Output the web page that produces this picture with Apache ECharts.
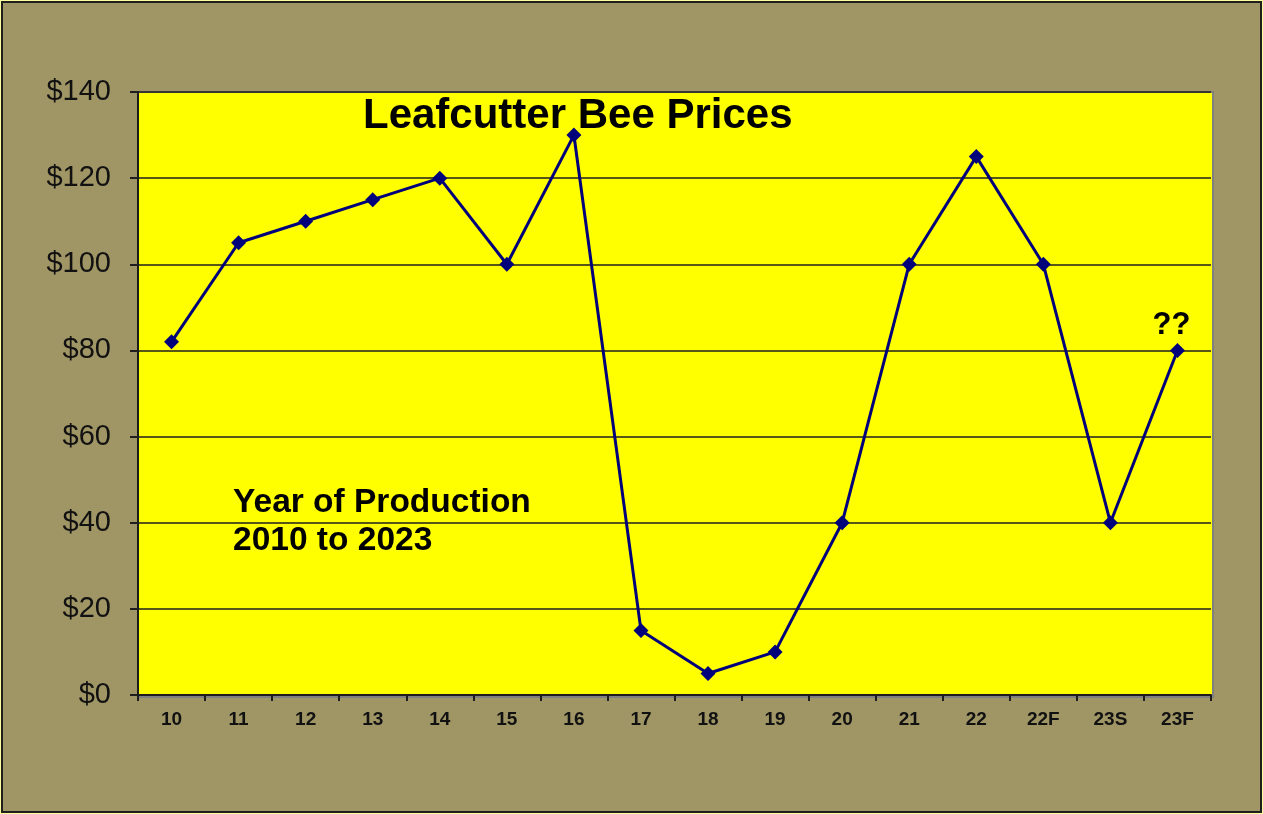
<!DOCTYPE html>
<html>
<head>
<meta charset="utf-8">
<script src="https://cdn.jsdelivr.net/npm/echarts@6/dist/echarts.min.js"></script>
<style>
  html, body { margin: 0; padding: 0; background: #fdfd9a; }
  #main { width: 1261px; height: 812px; margin: 1px 0 0 1px; box-sizing: border-box; border: 2px solid #1e1e1e; }
</style>
</head>
<body>
<div id="main"></div>
<script>
// categories and prices
var years = ['10', '11', '12', '13', '14', '15', '16', '17', '18', '19', '20', '21', '22', '22F', '23S', '23F'];
var prices = [82, 105, 110, 115, 120, 100, 130, 15, 5, 10, 40, 100, 125, 100, 40, 80];
var priceTicks = [0, 20, 40, 60, 80, 100, 120, 140];

var myChart = echarts.init(document.getElementById('main'));
var font = 'Liberation Sans, Arial, sans-serif';

var seriesData = prices.map(function (v, i) {
    if (i === prices.length - 1) {
        // the "??" over the last guess
        return {
            value: v,
            label: {
                show: true, position: 'top', distance: 2, offset: [-6, 0],
                formatter: '??', fontSize: 31, fontWeight: 'bold', color: '#000', fontFamily: font
            }
        };
    }
    return v;
});

var option = {
    backgroundColor: '#a09565',
    animation: false,
    grid: { left: 135, right: 49, top: 89, bottom: 116 },
    graphic: [
        {
            type: 'rect', silent: true, z: 0,
            shape: { x: 135, y: 89, width: 1075, height: 605 },
            style: { fill: '#ffff00', stroke: '#808080', lineWidth: 2 }
        },
        {
            type: 'text', left: 360, top: 92, z: 10,
            style: { text: 'Leafcutter Bee Prices', fill: '#000', font: 'bold 42px ' + font }
        },
        {
            type: 'text', left: 230, top: 481, z: 10,
            style: { text: 'Year of Production\n2010 to 2023', lineHeight: 38, fill: '#000', font: 'bold 33.5px ' + font }
        }
    ],
    xAxis: {
        type: 'category',
        data: years,
        boundaryGap: true,
        axisLine: { lineStyle: { color: '#1e1e1e', width: 2 } },
        axisTick: { show: true, inside: false, length: 6, alignWithLabel: false, lineStyle: { color: '#1e1e1e', width: 2 } },
        axisLabel: { margin: 15, color: '#111', fontSize: 19, fontWeight: 'bold', fontFamily: font },
        splitLine: { show: false }
    },
    yAxis: {
        type: 'value',
        min: 0, max: 140, interval: 20,
        axisLine: { show: true, lineStyle: { color: '#1e1e1e', width: 2 } },
        axisTick: { show: true, length: 8, lineStyle: { color: '#1e1e1e', width: 2 } },
        axisLabel: {
            margin: 27, color: '#111', fontSize: 29, fontFamily: font,
            formatter: function (v) { return priceTicks.indexOf(v) >= 0 ? '$' + v : ''; }
        },
        splitLine: { show: true, lineStyle: { color: '#1e1e1e', width: 1.5 } }
    },
    series: [
        {
            name: 'Price',
            type: 'line',
            data: seriesData,
            symbol: 'diamond',
            symbolSize: 15,
            z: 5,
            lineStyle: { color: '#00007a', width: 3 },
            itemStyle: { color: '#00007a' }
        }
    ]
};

window.onresize = myChart.resize;
myChart.setOption(option);
</script>
</body>
</html>
